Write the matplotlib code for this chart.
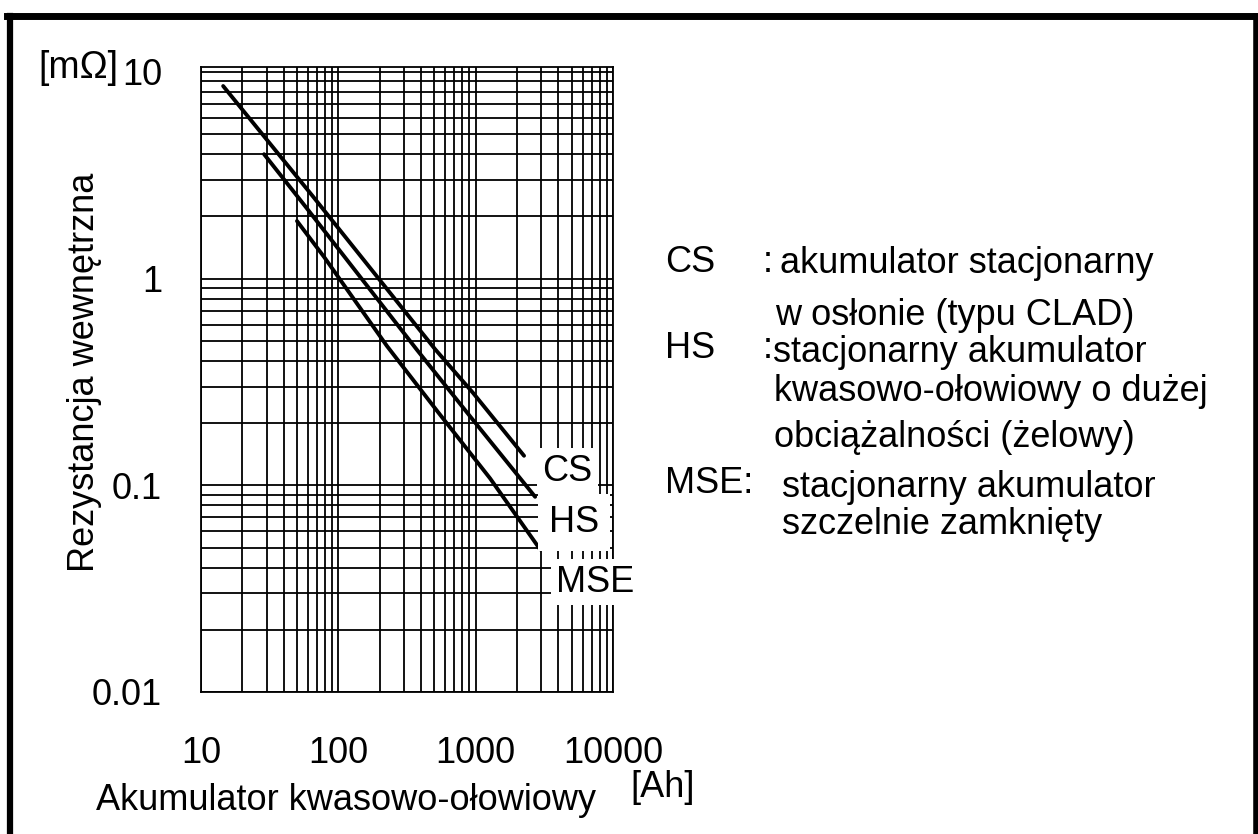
import matplotlib
matplotlib.use("Agg")
import matplotlib.pyplot as plt
from matplotlib.lines import Line2D
from matplotlib.ticker import NullFormatter

plt.rcParams['font.family'] = ['Liberation Sans', 'DejaVu Sans']

# capacity [Ah] vs internal resistance [mOhm]
cs_ah = [14.5, 65, 506, 957, 2250]
cs_mohm = [8.55, 2.51, 0.456, 0.280, 0.139]
hs_ah = [28.8, 58, 374, 957, 2710]
hs_mohm = [4.0, 2.22, 0.452, 0.207, 0.088]
mse_ah = [50, 79, 226, 524, 1274, 2944]
mse_mohm = [1.9, 1.27, 0.472, 0.229, 0.108, 0.049]

series_names = ["CS", "HS", "MSE"]
x_ticks = [10, 100, 1000, 10000]
x_tick_labels = ["10", "100", "1000", "10000"]
y_ticks = [0.01, 0.1, 1, 10]
y_tick_labels = ["0.01", "0.1", "1", "10"]

legend_keys = ["CS", "HS", "MSE:"]
legend_text = [
    ["akumulator stacjonarny", "w osłonie (typu CLAD)"],
    ["stacjonarny akumulator", "kwasowo-ołowiowy o dużej", "obciążalności (żelowy)"],
    ["stacjonarny akumulator", "szczelnie zamknięty"],
]

W, H = 1258, 834
FS = 26


def fx(px):
    return px / W


def fy(py):
    return 1 - py / H


fig = plt.figure(figsize=(W / 100, H / 100), dpi=100)
fig.patch.set_facecolor('white')

ax = fig.add_axes([fx(201), fy(692), 412 / W, 625 / H])
ax.set_xscale('log')
ax.set_yscale('log')
ax.set_xlim(10, 10000)
ax.set_ylim(0.01, 10.57)

ax.grid(True, which='both', color='black', lw=1.3)
ax.set_axisbelow(True)
for s in ax.spines.values():
    s.set_linewidth(1.3)
    s.set_color('black')

ax.set_xticks(x_ticks, x_tick_labels, fontsize=FS)
ax.set_yticks(y_ticks, y_tick_labels, fontsize=FS)
ax.xaxis.set_minor_formatter(NullFormatter())
ax.yaxis.set_minor_formatter(NullFormatter())
ax.tick_params(which='both', length=0)
ax.tick_params(axis='x', pad=32)
ax.tick_params(axis='y', pad=28)

# the three curves
for xs, ys in [(cs_ah, cs_mohm), (hs_ah, hs_mohm), (mse_ah, mse_mohm)]:
    ax.plot(xs, ys, color='black', lw=2.8, solid_capstyle='round', zorder=3)

# curve labels in white boxes
label_pos = [(4630, 0.117), (5210, 0.066), (7410, 0.034)]
label_pad = [0.15, 0.3, 0.15]
for name, (lx, ly), pad in zip(series_names, label_pos, label_pad):
    ax.text(lx, ly, name, fontsize=FS, ha='center', va='center', zorder=4,
            clip_on=False,
            bbox=dict(boxstyle=f'square,pad={pad}', facecolor='white', edgecolor='none'))

# axis titles
ax.text(-0.2816, 0.512, "Rezystancja wewnętrzna", transform=ax.transAxes,
        rotation=90, ha='center', va='center', fontsize=FS)
fig.text(fx(118), fy(68), "[mΩ]", ha='right', va='center', fontsize=27)
fig.text(fx(96), fy(810), "Akumulator kwasowo-ołowiowy", ha='left', va='baseline', fontsize=FS)
fig.text(fx(630), fy(797), "[Ah]", ha='left', va='baseline', fontsize=FS)

# legend block on the right
key_base = [272, 358, 493]
colon_x = [763, 763, None]
desc_x = [[780, 775], [773, 774, 774], [782, 782]]
desc_base = [[273, 325], [362, 401, 447], [497, 534]]
for i, key in enumerate(legend_keys):
    fig.text(fx(665), fy(key_base[i]), key, ha='left', va='baseline', fontsize=FS)
    if colon_x[i] is not None:
        fig.text(fx(colon_x[i]), fy(key_base[i]), ":", ha='left', va='baseline', fontsize=FS)
    for line, lx, lb in zip(legend_text[i], desc_x[i], desc_base[i]):
        fig.text(fx(lx), fy(lb), line, ha='left', va='baseline', fontsize=FS)

# thick outer frame (left, top, right)
fig.add_artist(Line2D([fx(10), fx(10)], [0, fy(16)], transform=fig.transFigure, lw=4.5, color='black'))
fig.add_artist(Line2D([fx(7), fx(1258)], [fy(16), fy(16)], transform=fig.transFigure, lw=5, color='black'))
fig.add_artist(Line2D([fx(1255.5), fx(1255.5)], [0, fy(16)], transform=fig.transFigure, lw=4, color='black'))

fig.savefig('out.png', dpi=100)
